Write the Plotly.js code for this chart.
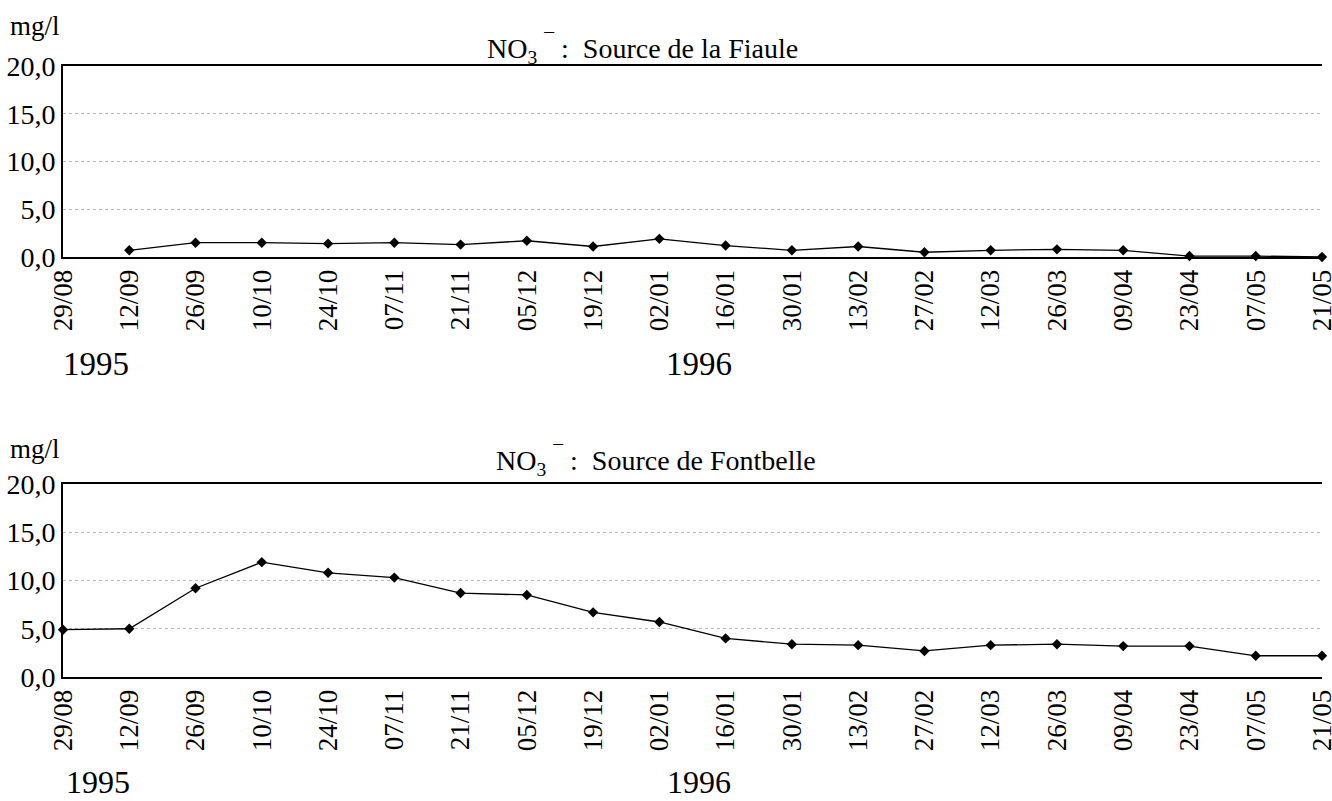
<!DOCTYPE html>
<html>
<head>
<meta charset="utf-8">
<script src="https://cdn.plot.ly/plotly-3.0.1.min.js"></script>
<style>html,body{margin:0;padding:0;background:#fff;}#chart{width:1332px;height:801px;}</style>
</head>
<body>
<div id="chart"></div>
<script>
// Sampling dates (tick labels)
const dateLabels = ["29/08","12/09","26/09","10/10","24/10","07/11","21/11","05/12","19/12","02/01",
                    "16/01","30/01","13/02","27/02","12/03","26/03","09/04","23/04","07/05","21/05"];
const years = ["1995","1996"];

// NO3- Source de la Fiaule (mg/l) — no value on 29/08
const fiauleDates = ["12/09","26/09","10/10","24/10","07/11","21/11","05/12","19/12","02/01",
                     "16/01","30/01","13/02","27/02","12/03","26/03","09/04","23/04","07/05","21/05"];
const fiauleValues = [0.7,1.5,1.5,1.4,1.5,1.3,1.7,1.1,1.9,1.2,0.7,1.1,0.5,0.7,0.8,0.7,0.1,0.1,0.0];

// NO3- Source de Fontbelle (mg/l)
const fontbelleDates = dateLabels;
const fontbelleValues = [4.9,5.0,9.2,11.9,10.8,10.3,8.7,8.5,6.7,5.7,4.0,3.4,3.3,2.7,3.3,3.4,3.2,3.2,2.2,2.2];

const titles = ["NO<sub>3</sub> <sup>¯</sup> :  Source de la Fiaule", "NO<sub>3</sub> <sup>¯</sup> :  Source de Fontbelle"];
const unitLabel = "mg/l";

const idx = d => dateLabels.indexOf(d);
const FONT = "Liberation Serif";

const lineStyle = {color:"#000", width:1.3};
const markerStyle = {symbol:"diamond", size:8, color:"#000"};

const traces = [
  {x: fiauleDates.map(idx), y: fiauleValues, xaxis:"x", yaxis:"y", mode:"lines+markers",
   line: lineStyle, marker: markerStyle, cliponaxis:false, hoverinfo:"y"},
  {x: fontbelleDates.map(idx), y: fontbelleValues, xaxis:"x2", yaxis:"y2", mode:"lines+markers",
   line: lineStyle, marker: markerStyle, cliponaxis:false, hoverinfo:"y"}
];

const W = 1332, H = 801, L = 63, R = 10;
const pw = W - L - R;
const px = x => (x - L) / pw;
const py = y => 1 - y / H;

function xax(anchor){
  return {
    anchor: anchor, range:[0, dateLabels.length-1],
    tickmode:"array", tickvals: dateLabels.map((d,i)=>i), ticktext: dateLabels,
    tickangle:-90, tickfont:{family:FONT, size:27, color:"#000"},
    ticklabeloverflow:"allow",
    showline:true, mirror:true, linecolor:"#000", linewidth:2,
    showgrid:false, zeroline:false, ticks:"", ticklen:0, automargin:false
  };
}
function yax(anchor, domain){
  return {
    anchor: anchor, domain: domain, range:[0,20],
    tickmode:"array", tickvals:[0,5,10,15,20], tickformat:".1f",
    tickfont:{family:FONT, size:28, color:"#000"},
    showline:true, mirror:false, linecolor:"#000", linewidth:2,
    showgrid:true, gridcolor:"#b5b5b5", gridwidth:1, griddash:"dot",
    zeroline:false, ticks:"", ticklen:0, automargin:false
  };
}

const ann = (text, x, y, size, xanchor) => ({
  text: text, xref:"paper", yref:"paper", x: x, y: y, showarrow:false,
  xanchor: xanchor || "center", yanchor:"middle", font:{family:FONT, size:size, color:"#000"}
});

const layout = {
  width: W, height: H,
  margin:{l:L, r:R, t:0, b:0},
  paper_bgcolor:"#fff", plot_bgcolor:"#fff",
  showlegend:false,
  separators:", ",
  font:{family:FONT, color:"#000"},
  xaxis: xax("y"),
  yaxis: yax("x", [py(257), py(66)]),
  xaxis2: xax("y2"),
  yaxis2: yax("x2", [py(677), py(484)]),
  annotations: [
    ann(unitLabel, px(8), py(26), 27, "left"),
    ann(titles[0], px(642), py(48), 28),
    ann(years[0], px(96), py(364), 33),
    ann(years[1], px(699), py(364), 33),
    ann(unitLabel, px(8), py(449), 27, "left"),
    ann(titles[1], px(656), py(461), 28),
    ann(years[0], px(98), py(782), 32),
    ann(years[1], px(699), py(782), 32)
  ]
};

Plotly.newPlot("chart", traces, layout, {displayModeBar:false, staticPlot:true});
</script>
</body>
</html>
